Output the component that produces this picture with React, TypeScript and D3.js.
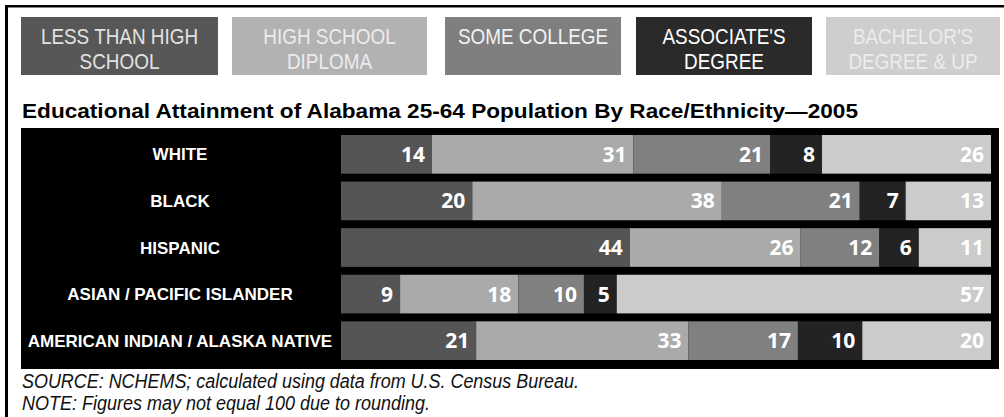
import React from "react";
import * as d3 from "d3";

const categories = ["LESS THAN HIGH SCHOOL", "HIGH SCHOOL DIPLOMA", "SOME COLLEGE", "ASSOCIATE'S DEGREE", "BACHELOR'S DEGREE & UP"];
const legendLines = [["LESS THAN HIGH", "SCHOOL"], ["HIGH SCHOOL", "DIPLOMA"], ["SOME COLLEGE"], ["ASSOCIATE'S", "DEGREE"], ["BACHELOR'S", "DEGREE & UP"]];
const groups = ["WHITE", "BLACK", "HISPANIC", "ASIAN / PACIFIC ISLANDER", "AMERICAN INDIAN / ALASKA NATIVE"];
const lessThanHS = [14, 20, 44, 9, 21];
const hsDiploma = [31, 38, 26, 18, 33];
const someCollege = [21, 21, 12, 10, 17];
const associates = [8, 7, 6, 5, 10];
const bachelors = [26, 13, 11, 57, 20];
const series = [lessThanHS, hsDiploma, someCollege, associates, bachelors];

const title = "Educational Attainment of Alabama 25-64 Population By Race/Ethnicity\u20142005";
const sourceText = "SOURCE: NCHEMS; calculated using data from U.S. Census Bureau.";
const noteText = "NOTE: Figures may not equal 100 due to rounding.";

const barColors = ["#555555", "#aaaaaa", "#808080", "#232323", "#cbcbcb"];
const legendFill = ["#575757", "#b2b2b2", "#7f7f7f", "#2a2a2a", "#cecece"];
const legendText = ["#e2e2e2", "#ececec", "#f2f2f2", "#ffffff", "#ececec"];
const legendBoxes = [[21, 218], [232, 427], [445, 621], [636, 812], [826, 1000]];

export default function App() {
  const y = d3.scaleBand<string>().domain(groups).range([135, 360]).paddingInner(0.17);
  const x0 = 341, x1 = 991;
  return (
    <svg width={1004} height={417} style={{ position: "absolute", left: 0, top: 0, background: "#fff" }}>
      <rect x={5} y={5} width={999} height={2.5} fill="#000" />
      <rect x={5} y={5} width={3} height={412} fill="#000" />
      {legendLines.map((lines, i) => {
        const [a, b] = legendBoxes[i];
        const cx = (a + b) / 2;
        return (
          <g key={i}>
            <rect x={a} y={17} width={b - a} height={58} fill={legendFill[i]} />
            {lines.map((t, j) => (
              <text key={j} transform={`translate(${cx},${44 + j * 25}) scale(0.86,1)`} textAnchor="middle"
                fontFamily="Liberation Sans, Arial, sans-serif" fontSize={22} fill={legendText[i]}>{t}</text>
            ))}
          </g>
        );
      })}
      <text x={22} y={118} fontFamily="Liberation Sans, Arial, sans-serif" fontWeight="bold" fontSize={20}
        textLength={836} lengthAdjust="spacingAndGlyphs" fill="#000">{title}</text>
      <rect x={21} y={128} width={978} height={241} fill="#000" />
      {groups.map((g, r) => {
        const vals = series.map(s => s[r]);
        const total = d3.sum(vals);
        const x = d3.scaleLinear().domain([0, total]).range([x0, x1]);
        const cum = d3.cumsum(vals);
        const by = y(g)!;
        const bh = y.bandwidth();
        return (
          <g key={g}>
            <text x={180} y={by + bh / 2 + 6} textAnchor="middle" fontFamily="Liberation Sans, Arial, sans-serif"
              fontWeight="bold" fontSize={17} fill="#fff">{g}</text>
            {vals.map((v, k) => {
              const start = x(cum[k] - v);
              const end = x(cum[k]);
              return (
                <g key={k}>
                  <rect x={start} y={by} width={end - start} height={bh} fill={barColors[k]} />
                  <text x={end - 7} y={by + bh / 2 + 7.5} textAnchor="end" fontFamily="Open Sans, sans-serif"
                    fontWeight="bold" fontSize={21} fill="#fff">{v}</text>
                </g>
              );
            })}
          </g>
        );
      })}
      <text x={22} y={388} fontFamily="Liberation Sans, Arial, sans-serif" fontStyle="italic" fontSize={20}
        textLength={557} lengthAdjust="spacingAndGlyphs" fill="#111">{sourceText}</text>
      <text x={22} y={410} fontFamily="Liberation Sans, Arial, sans-serif" fontStyle="italic" fontSize={20}
        textLength={408} lengthAdjust="spacingAndGlyphs" fill="#111">{noteText}</text>
    </svg>
  );
}
